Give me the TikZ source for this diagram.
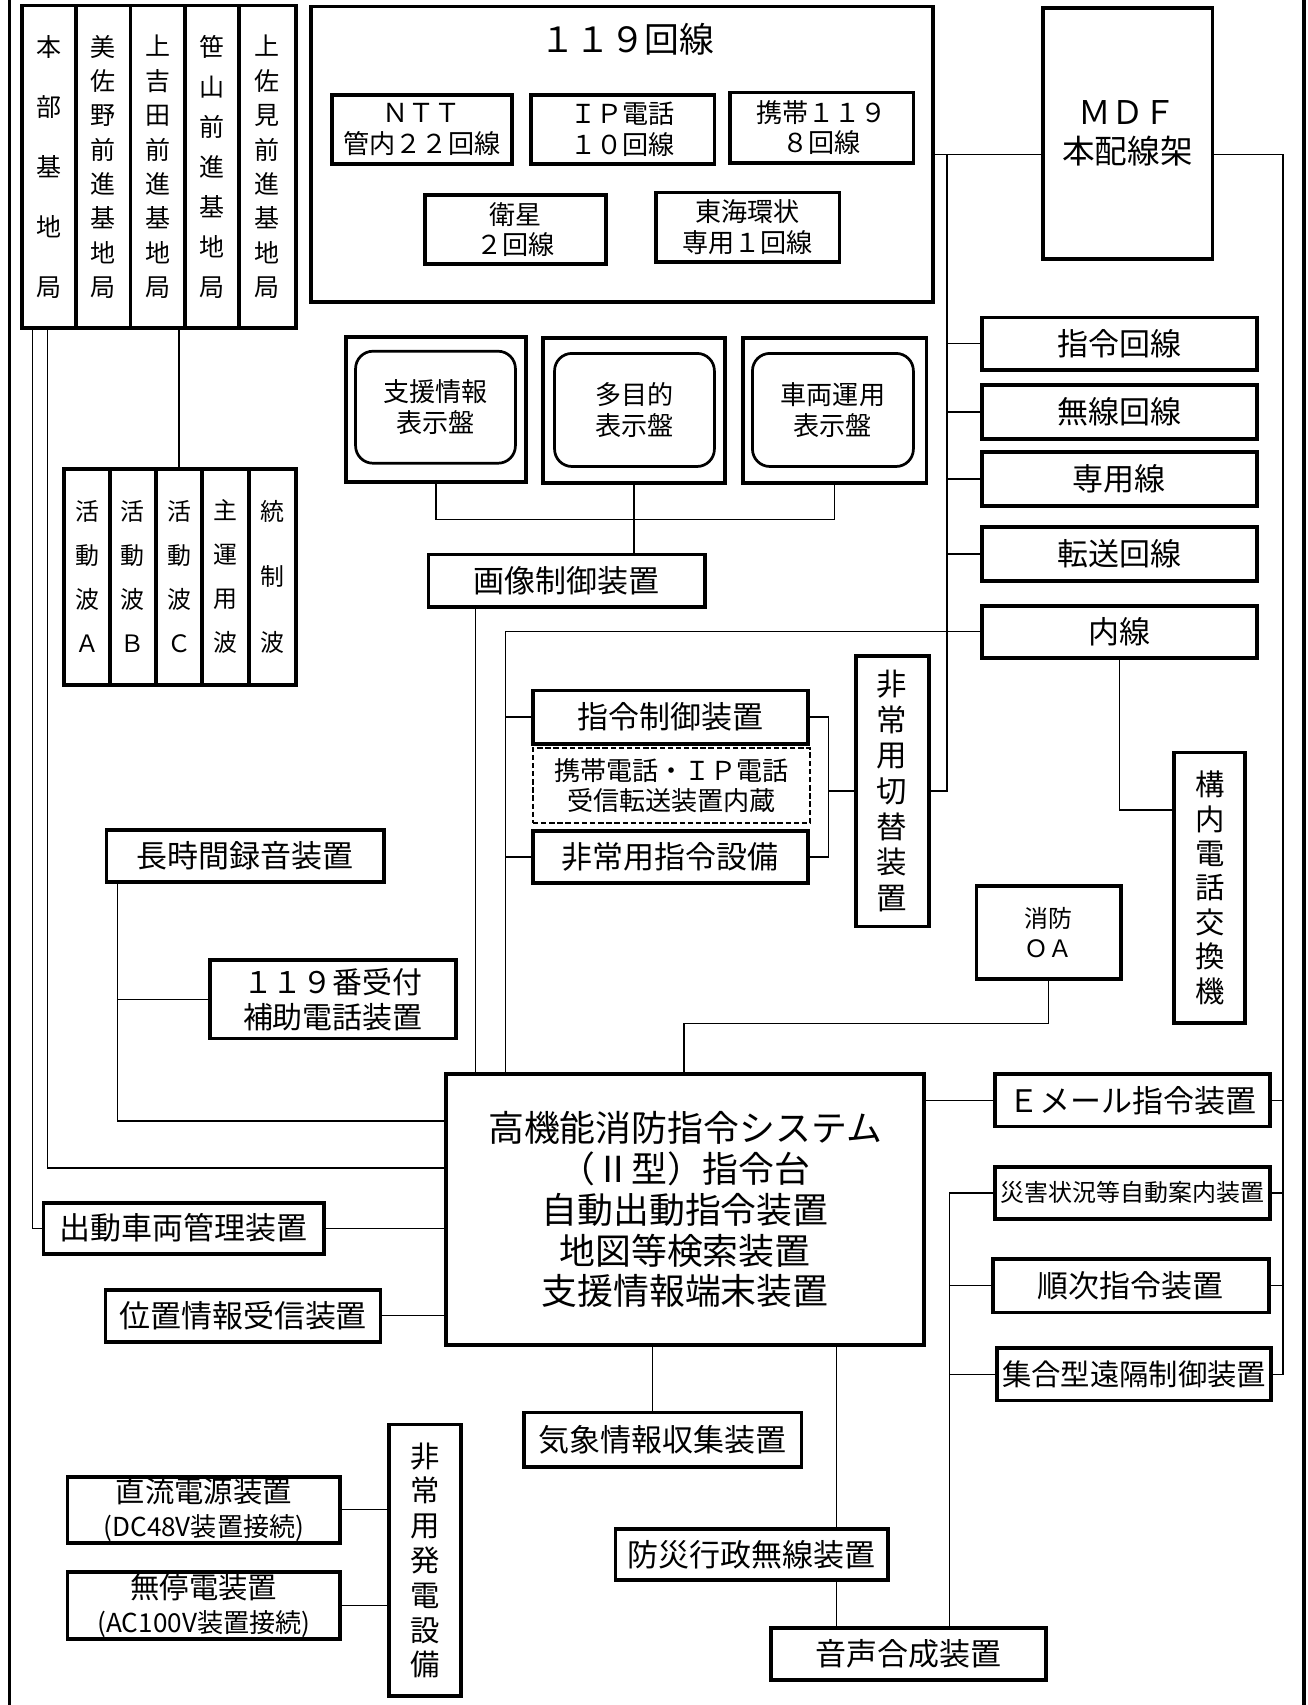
\documentclass[tikz,border=0pt]{standalone}
\usepackage{fontspec}
\setmainfont{Noto Sans CJK JP}
\newcommand\mybox[7][]{\node[blk,minimum width={#4-#2},minimum height={#5-#3},#1] (#6) at ({(#2+#4)/2},{(#3+#5)/2}) {#7};}
\begin{document}
\begin{tikzpicture}[x=1pt,y=-1pt,
 blk/.style={draw,line width=3.5pt,inner sep=0pt,align=center,font=\fontsize{28.5}{34}\selectfont},
 conn/.style={line width=1.2pt},
 rnd/.style={line width=2.5pt,rounded corners=16pt},
 dsh/.style={line width=2pt,dash pattern=on 5pt off 2.5pt},
 f24/.style={font=\fontsize{24}{28}\selectfont},
]
\useasboundingbox (0,0) rectangle (1202,1568);
% frame
\draw[line width=3pt] (8.5,0) -- (8.5,1568);
\draw[line width=3.5pt] (1199.5,0) -- (1199.5,1568);
% stations
\mybox[font=\fontsize{23}{55}\selectfont]{20}{5}{70}{302}{st1}{本\\部\\基\\地\\局}
\mybox[font=\fontsize{23}{31.6}\selectfont]{70}{5}{120}{302}{st2}{美\\佐\\野\\前\\進\\基\\地\\局}
\mybox[font=\fontsize{23}{31.6}\selectfont]{120}{5}{170}{302}{st3}{上\\吉\\田\\前\\進\\基\\地\\局}
\mybox[font=\fontsize{23}{36.8}\selectfont]{170}{5}{220}{302}{st4}{笹\\山\\前\\進\\基\\地\\局}
\mybox[font=\fontsize{23}{31.6}\selectfont]{220}{5}{272}{302}{st5}{上\\佐\\見\\前\\進\\基\\地\\局}
% radio
\mybox[font=\fontsize{22}{40.5}\selectfont]{59}{431}{101}{630}{r1}{活\\動\\波\\Ａ}
\mybox[font=\fontsize{22}{40.5}\selectfont]{101}{431}{143.5}{630}{r2}{活\\動\\波\\Ｂ}
\mybox[font=\fontsize{22}{40.5}\selectfont]{143.5}{431}{186}{630}{r3}{活\\動\\波\\Ｃ}
\mybox[font=\fontsize{22}{40.5}\selectfont]{186}{431}{229}{630}{r4}{主\\運\\用\\波}
\mybox[font=\fontsize{22}{60.5}\selectfont]{229}{431}{272}{630}{r5}{統\\制\\波}
% 119 lines
\mybox{286}{6}{858}{278}{box119}{}
\node[font=\fontsize{32}{36}\selectfont] (t119) at (577,36) {１１９回線};
\mybox[f24]{305}{87}{471}{151}{ntt}{ＮＴＴ\\管内２２回線}
\mybox[f24]{488}{87}{657}{151}{ipl}{ＩＰ電話\\１０回線}
\mybox[f24]{671}{85}{840}{150}{kei}{携帯１１９\\８回線}
\mybox[f24]{391}{179}{557}{243}{eisei}{衛星\\２回線}
\mybox[f24]{603}{177}{772}{241}{tokai}{東海環状\\専用１回線}
\mybox[font=\fontsize{30}{36}\selectfont]{959}{7}{1115}{238}{mdf}{ＭＤＦ\\本配線架}
% right column
\mybox{903}{292}{1156}{340}{shireikaisen}{指令回線}
\mybox{903}{354}{1156}{404}{musen}{無線回線}
\mybox{903}{416}{1156}{465}{senyou}{専用線}
\mybox{903}{485}{1156}{534}{tensou}{転送回線}
\mybox{903}{557}{1156}{605}{naisen}{内線}
% displays
\mybox{318}{310}{484}{443}{d1o}{}
\mybox{499}{311}{667}{444}{d2o}{}
\mybox{683}{311}{852}{444}{d3o}{}
\mybox[rnd,f24]{327}{323}{474}{426}{d1i}{支援情報\\表示盤}
\mybox[rnd,f24]{510}{325}{657}{429}{d2i}{多目的\\表示盤}
\mybox[rnd,f24]{692}{325}{840}{429}{d3i}{車両運用\\表示盤}
\mybox{394}{510}{648}{558}{gazou}{画像制御装置}
% command devices
\mybox{490}{635}{743}{684}{shireiseigyo}{指令制御装置}
\mybox[dsh,font=\fontsize{24}{27}\selectfont]{490}{688}{745}{757}{naizou}{携帯電話・ＩＰ電話\\受信転送装置内蔵}
\mybox{490}{764}{743}{812}{hijoushirei}{非常用指令設備}
\mybox[font=\fontsize{28}{32.7}\selectfont]{787}{603}{854}{852}{kirikae}{非\\常\\用\\切\\替\\装\\置}
\mybox[font=\fontsize{27}{31.7}\selectfont]{1080}{692}{1145}{941}{kounai}{構\\内\\電\\話\\交\\換\\機}
\mybox[font=\fontsize{22}{27}\selectfont]{898}{815}{1031}{900}{oa}{消防\\ＯＡ}
\mybox{98}{763}{353}{811}{chouji}{長時間録音装置}
\mybox[font=\fontsize{27.5}{32}\selectfont]{193}{883}{419}{955}{uketsuke}{１１９番受付\\補助電話装置}
% main
\mybox[font=\fontsize{33}{37.5}\selectfont]{410}{988}{850}{1237}{main}{高機能消防指令システム\\（Ⅱ型）指令台\\自動出動指令装置\\地図等検索装置\\支援情報端末装置}
% right devices
\mybox{915}{988}{1168}{1036}{email}{Ｅメール指令装置}
\mybox[font=\fontsize{22}{26}\selectfont]{915}{1073}{1168}{1121}{saigai}{災害状況等自動案内装置}
\mybox{913}{1158}{1167}{1207}{junji}{順次指令装置}
\mybox[font=\fontsize{27}{32}\selectfont]{917}{1240}{1169}{1288}{shugou}{集合型遠隔制御装置}
% left devices
\mybox{40}{1106}{298}{1153}{shutsudou}{出動車両管理装置}
\mybox{97}{1186}{350}{1234}{ichi}{位置情報受信装置}
% bottom
\mybox{482}{1299}{737}{1349}{kishou}{気象情報収集装置}
\mybox{566}{1406}{817}{1453}{bousai}{防災行政無線装置}
\mybox{709}{1497}{962}{1545}{onsei}{音声合成装置}
% power
\mybox[font=\fontsize{24}{31}\selectfont]{62}{1358}{313}{1419}{dc}{{\fontsize{27}{31}\selectfont 直流電源装置}\\(DC48V装置接続)}
\mybox[font=\fontsize{24}{31}\selectfont]{62}{1446}{313}{1507}{ups}{{\fontsize{27}{31}\selectfont 無停電装置}\\(AC100V装置接続)}
\mybox[font=\fontsize{27}{32}\selectfont]{358}{1310}{424}{1560}{hatsuden}{非\\常\\用\\発\\電\\設\\備}
% coordinates
\coordinate (ba) at (871,0);
\coordinate (bb) at (465,0);
\coordinate (bc) at (762,0);
\coordinate (db) at (0,478);
\coordinate (bg) at (437,0);
\coordinate (l1) at (30,0);
\coordinate (l2) at (44,0);
\coordinate (l3) at (108,0);
\coordinate (h1074) at (0,1074);
\coordinate (h1031) at (0,1031);
\coordinate (bk) at (600,0);
\coordinate (bd) at (769,0);
\coordinate (be) at (873,0);
\coordinate (bf) at (1180,0);
\coordinate (bo) at (629,941);
\coordinate (h745) at (0,745);
% connectors
\draw[conn] (box119.east) -- (box119.east -| mdf.west);
\draw[conn] (box119.east -| ba) |- (kirikae.east);
\foreach \n in {shireikaisen,musen,senyou,tensou}{\draw[conn] (\n.west -| ba) -- (\n.west);}
\draw[conn] (naisen.west) -- (naisen.west -| bb) -- (main.north -| bb);
\draw[conn] (shireiseigyo.west -| bb) -- (shireiseigyo.west);
\draw[conn] (hijoushirei.west -| bb) -- (hijoushirei.west);
\draw[conn] (shireiseigyo.east) -- (shireiseigyo.east -| bc) -- (hijoushirei.east -| bc) -- (hijoushirei.east);
\draw[conn] (kirikae.west) -- (kirikae.west -| bc);
\draw[conn] (d1o.south) -- (d1o.south |- db) -- (d3o.south |- db) -- (d3o.south);
\draw[conn] (d2o.south) -- (gazou.north -| d2o.south);
\draw[conn] (gazou.south -| bg) -- (main.north -| bg);
\draw[conn] (st1.south -| l1) |- (shutsudou.west);
\draw[conn] (st1.south -| l2) |- (main.west |- h1074);
\draw[conn] (r3.north) -- (r3.north |- st3.south);
\draw[conn] (chouji.south -| l3) |- (main.west |- h1031);
\draw[conn] (uketsuke.west) -- (uketsuke.west -| l3);
\draw[conn] (shutsudou.east) -- (shutsudou.east -| main.west);
\draw[conn] (ichi.east) -- (ichi.east -| main.west);
\draw[conn] (main.south -| bk) -- (kishou.north -| bk);
\draw[conn] (main.south -| bd) -- (bousai.north -| bd);
\draw[conn] (bousai.south -| bd) -- (onsei.north -| bd);
\draw[conn] (onsei.north -| be) -- (saigai.west -| be) -- (saigai.west);
\draw[conn] (junji.west -| be) -- (junji.west);
\draw[conn] (shugou.west -| be) -- (shugou.west);
\draw[conn] (mdf.east |- box119.east) -- (box119.east -| bf) -- (shugou.east -| bf) -- (shugou.east);
\foreach \n in {email,saigai,junji}{\draw[conn] (\n.east) -- (\n.east -| bf);}
\draw[conn] (main.east |- email.west) -- (email.west);
\draw[conn] (oa.south) |- (bo) -- (main.north -| bo);
\draw[conn] (naisen.south) |- (kounai.west |- h745);
\draw[conn] (dc.east) -- (dc.east -| hatsuden.west);
\draw[conn] (ups.east) -- (ups.east -| hatsuden.west);
\end{tikzpicture}
\end{document}
